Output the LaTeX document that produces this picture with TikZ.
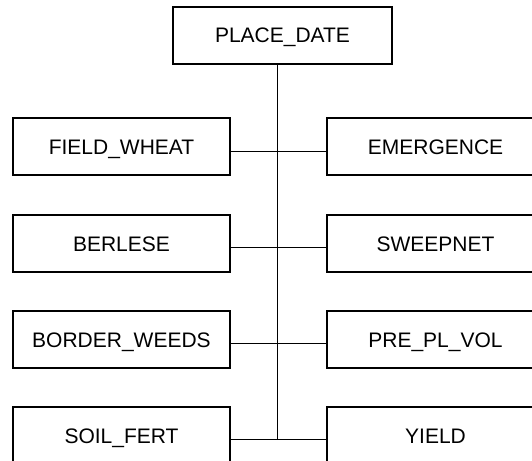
\documentclass[tikz,border=0pt]{standalone}
\usepackage{fontspec}
\setmainfont{Liberation Sans}
\begin{document}
\begin{tikzpicture}[x=1pt,y=-1pt,
  box/.style={draw=black, line width=1.5pt, fill=white, minimum width=217pt, minimum height=57pt, inner sep=0pt, text height=15pt, text depth=0pt, font=\fontsize{21}{25}\selectfont},
  link/.style={draw=black, line width=1pt}]
\clip (0,0) rectangle (532,460);
\fill[white] (0,0) rectangle (532,460);
\node[box, minimum width=219pt] (pd) at (282.5,35.5) {PLACE\_DATE};
\node[box] (fw) at (121.5,146.5) {FIELD\_WHEAT};
\node[box] (em) at (435.5,146.5) {EMERGENCE};
\node[box] (be) at (121.5,243.5) {BERLESE};
\node[box] (sw) at (435.5,243.5) {SWEEPNET};
\node[box] (bw) at (121.5,339.5) {BORDER\_WEEDS};
\node[box] (pp) at (435.5,339.5) {PRE\_PL\_VOL};
\node[box] (sf) at (121.5,435.5) {SOIL\_FERT};
\node[box] (yi) at (435.5,435.5) {YIELD};
\coordinate (tend) at (277,439);
\draw[link] ([xshift=-5.5pt]pd.south) -- (tend);
\draw[link] ([yshift=-5pt]fw.east) -- ([yshift=-5pt]em.west);
\draw[link] ([yshift=-3.5pt]be.east) -- ([yshift=-3.5pt]sw.west);
\draw[link] ([yshift=-3.5pt]bw.east) -- ([yshift=-3.5pt]pp.west);
\draw[link] ([yshift=-3.5pt]sf.east) -- ([yshift=-3.5pt]yi.west);
\end{tikzpicture}
\end{document}
